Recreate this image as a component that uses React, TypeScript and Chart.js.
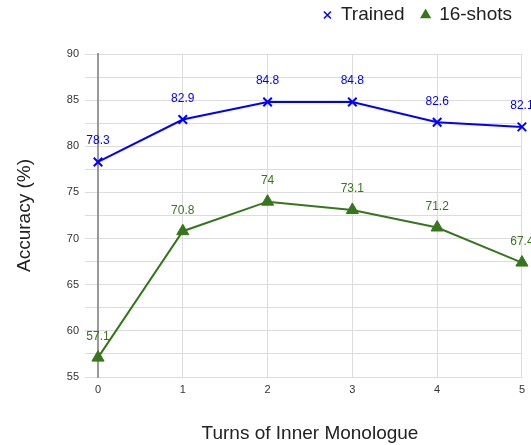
import React, { useEffect, useRef } from "react";
import { Chart, registerables } from "chart.js";

Chart.register(...registerables);

const turns = ["0", "1", "2", "3", "4", "5"];
const trained = [78.3, 82.9, 84.8, 84.8, 82.6, 82.1];
const shots16 = [57.1, 70.8, 74, 73.1, 71.2, 67.4];
const yMin = 55;
const yMax = 90;

const BLUE = "#0000ff";
const GREEN = "#38761d";
const FONT = "'Liberation Sans', Arial, sans-serif";

const valueLabels = {
  id: "valueLabels",
  afterDatasetsDraw(chart: any) {
    const ctx = chart.ctx;
    ctx.save();
    ctx.font = `12px ${FONT}`;
    ctx.textAlign = "center";
    ctx.textBaseline = "middle";
    chart.data.datasets.forEach((ds: any, i: number) => {
      const meta = chart.getDatasetMeta(i);
      ctx.fillStyle = ds.borderColor;
      meta.data.forEach((pt: any, j: number) => {
        ctx.fillText(String(ds.data[j]), pt.x, pt.y - 21);
      });
    });
    ctx.restore();
  },
};

const legendGap = {
  id: "legendGap",
  beforeInit(chart: any) {
    const legend = chart.legend;
    if (!legend) return;
    const orig = legend.fit;
    legend.fit = function () {
      orig.call(this);
      this.height += 19.5;
    };
  },
  beforeDraw(chart: any) {
    if (chart.legend) chart.legend.right += 7;
  },
};

export default function App() {
  const ref = useRef<HTMLCanvasElement>(null);
  useEffect(() => {
    if (!ref.current) return;
    const chart = new Chart(ref.current, {
      type: "line",
      data: {
        labels: turns,
        datasets: [
          {
            label: "Trained",
            data: trained,
            borderColor: BLUE,
            backgroundColor: BLUE,
            borderWidth: 2,
            pointStyle: "crossRot",
            pointRadius: 6,
            pointBorderWidth: 2,
            tension: 0,
          },
          {
            label: "16-shots",
            data: shots16,
            borderColor: GREEN,
            backgroundColor: GREEN,
            borderWidth: 2,
            pointStyle: "triangle",
            pointRadius: 7,
            pointBorderWidth: 1,
            tension: 0,
          },
        ],
      },
      options: {
        responsive: false,
        animation: false,
        layout: { padding: { left: 0, right: 9, top: -11.5, bottom: 0 } },
        plugins: {
          legend: {
            position: "top",
            align: "end",
            labels: {
              usePointStyle: true,
              boxWidth: 8,
              boxHeight: 7,
              padding: 17,
              color: "#222",
              font: { family: FONT, size: 19 },
              generateLabels(chart: any) {
                const items = Chart.defaults.plugins.legend.labels.generateLabels(chart);
                items.forEach((it: any) => (it.lineWidth = 1.5));
                return items;
              },
            },
          },
          tooltip: { enabled: false },
        },
        scales: {
          x: {
            grid: { color: "#dcdcdc", drawTicks: false },
            border: { color: "#dcdcdc" },
            ticks: { color: "#333", font: { family: FONT, size: 11 }, padding: 6 },
            title: {
              display: true,
              text: "Turns of Inner Monologue",
              color: "#222",
              font: { family: FONT, size: 19 },
              padding: { top: 0, bottom: 0 },
            },
            afterFit(scale: any) {
              scale.height = 68;
            },
          },
          y: {
            min: yMin,
            max: yMax,
            grid: { color: "#dcdcdc", tickLength: 13 },
            border: { color: "#999", width: 2 },
            ticks: {
              stepSize: 2.5,
              maxTicksLimit: 20,
              autoSkip: false,
              color: "#333",
              padding: 6,
              font: { family: FONT, size: 11 },
              callback: (v: any) => (Number(v) % 5 === 0 ? String(v) : ""),
            },
            title: {
              display: true,
              text: "Accuracy (%)",
              color: "#222",
              font: { family: FONT, size: 19 },
              padding: { top: 13.6, bottom: 0 },
            },
            afterFit(scale: any) {
              scale.width = 98;
            },
          },
        },
      },
      plugins: [valueLabels, legendGap],
    });
    return () => chart.destroy();
  }, []);
  return (
    <div style={{ position: "fixed", left: 0, top: 0, width: 531, height: 445 }}>
      <canvas ref={ref} width={531} height={445} />
    </div>
  );
}
